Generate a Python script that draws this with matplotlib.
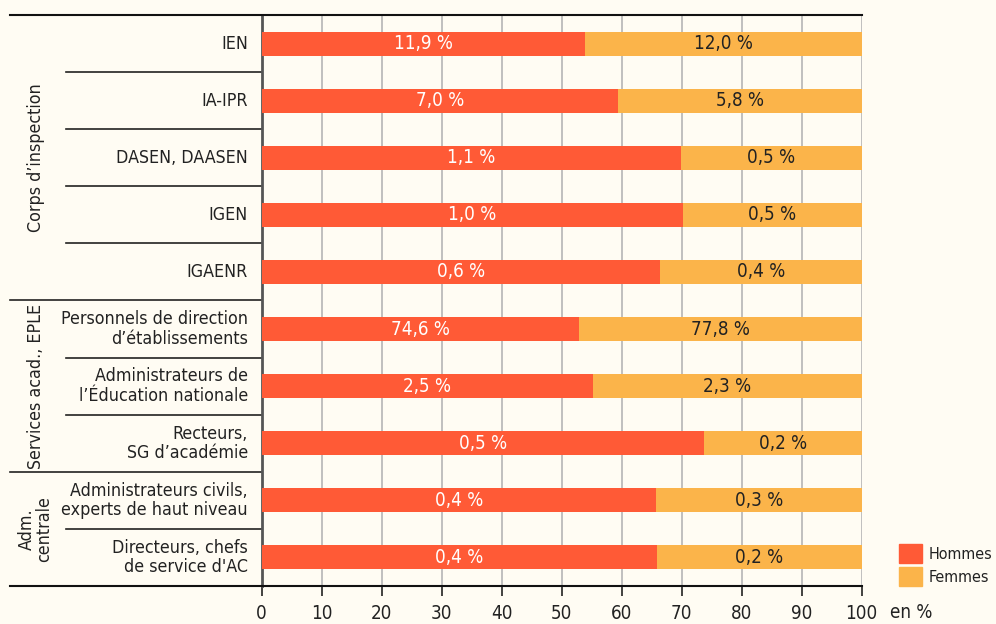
import matplotlib.pyplot as plt
from matplotlib.transforms import blended_transform_factory
from matplotlib.patches import Patch

# ===========================
# Data
# ===========================
categories = ['IEN', 'IA-IPR', 'DASEN, DAASEN', 'IGEN', 'IGAENR',
              'Personnels de direction\nd\u2019établissements',
              'Administrateurs de\nl\u2019Éducation nationale',
              'Recteurs,\nSG d\u2019académie',
              'Administrateurs civils,\nexperts de haut niveau',
              'Directeurs, chefs\nde service d\'AC']
hommes = [53.9, 59.4, 69.9, 70.2, 66.4, 52.9, 55.2, 73.7, 65.7, 65.9]
femmes = [46.1, 40.6, 30.1, 29.8, 33.6, 47.1, 44.8, 26.3, 34.3, 34.1]
labels_h = ['11,9 %', '7,0 %', '1,1 %', '1,0 %', '0,6 %',
            '74,6 %', '2,5 %', '0,5 %', '0,4 %', '0,4 %']
labels_f = ['12,0 %', '5,8 %', '0,5 %', '0,5 %', '0,4 %',
            '77,8 %', '2,3 %', '0,2 %', '0,3 %', '0,2 %']
groups = ['Corps d\u2019inspection', 'Services acad., EPLE', 'Adm.\ncentrale']
group_rows = [(0, 5), (5, 8), (8, 10)]
xticks = [0, 10, 20, 30, 40, 50, 60, 70, 80, 90, 100]

# ===========================
# Style
# ===========================
plt.rcParams['font.family'] = ['DejaVu Sans']
plt.rcParams['font.stretch'] = 'condensed'
bg = '#FFFCF3'
c_h = '#FF5A36'
c_f = '#FBB44A'
txt = '#222222'
fs = 13.5
fs_cat = 12.8

fig = plt.figure(figsize=(9.96, 6.24), dpi=100, facecolor=bg)
ax = fig.add_axes([0.2627, 0.0609, 0.6025, 0.9151], facecolor=bg)

y = [i + 0.5 for i in range(len(categories))]
ax.barh(y, hommes, height=0.42, color=c_h, zorder=3)
ax.barh(y, femmes, left=hommes, height=0.42, color=c_f, zorder=3)

for yi, h, f, lh, lf in zip(y, hommes, femmes, labels_h, labels_f):
    ax.text(h / 2, yi, lh, ha='center', va='center', color='white', fontsize=fs, zorder=4)
    ax.text(h + f / 2, yi, lf, ha='center', va='center', color=txt, fontsize=fs, zorder=4)

ax.set_xlim(0, 100)
ax.set_ylim(10, 0)
ax.set_xticks(xticks)
ax.set_xticklabels([str(t) for t in xticks], fontsize=fs, color=txt)
ax.tick_params(axis='x', direction='out', length=7, width=1.2, color=txt, pad=6)
ax.set_yticks([])
ax.grid(axis='x', color='#b5b5b5', linewidth=1.2, zorder=0)

for s in ['top', 'right', 'bottom']:
    ax.spines[s].set_visible(False)
ax.spines['left'].set_color('#555555')
ax.spines['left'].set_linewidth(2)

# category labels
for yi, cat in zip(y, categories):
    ax.text(-2.3, yi, cat, ha='right', va='center', fontsize=fs_cat, color=txt,
            linespacing=1.1)

# lines and group labels outside the axes
tr = blended_transform_factory(fig.transFigure, ax.transData)
x_right = 0.2627 + 0.6025
for yy in [0, 10]:
    ax.plot([0.01, x_right], [yy, yy], transform=tr, color='#111111', lw=1.5,
            clip_on=False, zorder=5)
for name, (start, end) in zip(groups, group_rows):
    for k in range(start + 1, end):
        ax.plot([0.0663, 0.2627], [k, k], transform=tr, color=txt, lw=1.2, clip_on=False)
    if end < 10:
        ax.plot([0.01, 0.2627], [end, end], transform=tr, color=txt, lw=1.2, clip_on=False)
    ax.text(0.036, (start + end) / 2, name, transform=tr, rotation=90, ha='center',
            va='center', fontsize=12.8, color=txt, linespacing=0.95)

ax.text(1.047, -0.047, 'en %', transform=ax.transAxes, ha='left', va='center',
        fontsize=fs, color=txt)

handles = [Patch(color=c_h, label='Hommes'), Patch(color=c_f, label='Femmes')]
fig.legend(handles=handles, loc='lower left', bbox_to_anchor=(0.903, 0.061), frameon=False,
           fontsize=11.5, handlelength=1.4, handleheight=1.4, handletextpad=0.45,
           labelspacing=0.3, labelcolor=txt, borderpad=0, borderaxespad=0)

fig.savefig('out.png', dpi=100, facecolor=bg)
